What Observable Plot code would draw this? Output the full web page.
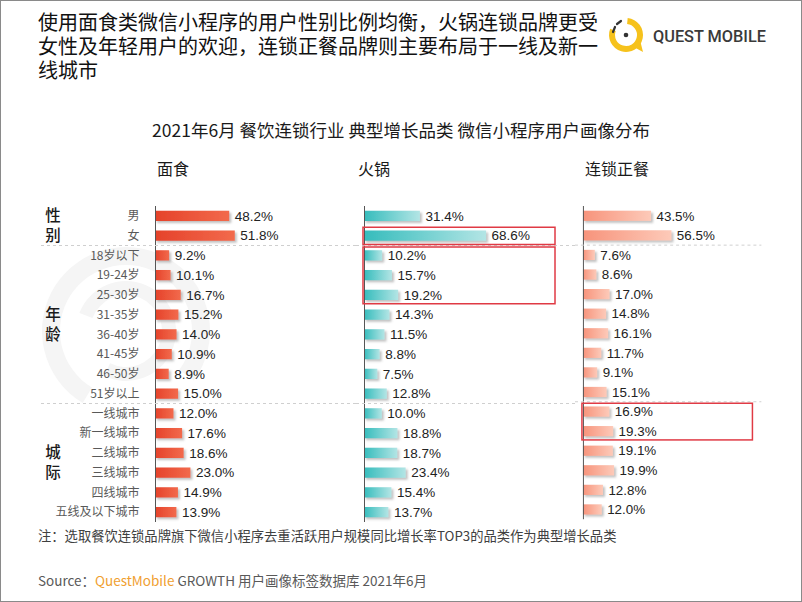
<!DOCTYPE html>
<html>
<head>
<meta charset="utf-8">
<script src="https://cdn.jsdelivr.net/npm/d3@7"></script>
<script src="https://cdn.jsdelivr.net/npm/@observablehq/plot@0.6"></script>
<style>
  body { margin: 0; background: #fff; }
  #chart { position: relative; width: 802px; height: 602px; box-sizing: border-box; border: 1px solid #8a8a8a; overflow: hidden; background: #fff; font-family: "Noto Sans CJK SC", "Noto Sans", sans-serif; }
  .abs { position: absolute; white-space: nowrap; }
  .title { left: 37px; top: 10px; font-size: 20px; line-height: 24px; color: #111; font-weight: 400; font-family: "Liberation Sans", "Noto Sans CJK SC", sans-serif; }
  .title div { height: 24px; }
  .subtitle { left: 0; width: 800px; top: 116px; text-align: center; font-size: 17.5px; color: #1a1a1a; }
  .head { top: 155px; font-size: 16px; color: #1a1a1a; }
  .note { left: 37px; top: 525px; font-size: 13.3px; color: #404040; }
  .source { left: 37px; top: 569px; font-size: 13.5px; color: #595959; }
  .panel { position: absolute; top: 205px; }
</style>
</head>
<body>
<div id="chart">
  <svg class="abs" id="wm" style="left:0;top:0" width="800" height="600"></svg>
  <div class="abs title"><div>使用面食类微信小程序的用户性别比例均衡，火锅连锁品牌更受</div><div>女性及年轻用户的欢迎，连锁正餐品牌则主要布局于一线及新一</div><div>线城市</div></div>
  <svg class="abs" id="logo" style="left:600px;top:8px" width="170" height="52"></svg>
  <div class="abs subtitle">2021年6月 餐饮连锁行业 典型增长品类 微信小程序用户画像分布</div>
  <div class="abs head" style="left:156px">面食</div>
  <div class="abs head" style="left:357px">火锅</div>
  <div class="abs head" style="left:584px">连锁正餐</div>
  <div class="panel" id="p1" style="left:0px"></div>
  <div class="panel" id="p2" style="left:355px"></div>
  <div class="panel" id="p3" style="left:574px"></div>
  <div class="abs note">注：选取餐饮连锁品牌旗下微信小程序去重活跃用户规模同比增长率TOP3的品类作为典型增长品类</div>
  <div class="abs source">Source：<span style="color:#f0a030">QuestMobile</span> GROWTH 用户画像标签数据库 2021年6月</div>
</div>
<script>
// ---- data ----
const rows = ["男","女","18岁以下","19-24岁","25-30岁","31-35岁","36-40岁","41-45岁","46-50岁","51岁以上","一线城市","新一线城市","二线城市","三线城市","四线城市","五线及以下城市"];
const groupNames = ["性别","年龄","城际"];
const groupFirst = ["男","18岁以下","一线城市"];
const groupLast = ["女","51岁以上","五线及以下城市"];
const panelNames = ["面食","火锅","连锁正餐"];
const noodles = [48.2,51.8,9.2,10.1,16.7,15.2,14.0,10.9,8.9,15.0,12.0,17.6,18.6,23.0,14.9,13.9];
const hotpot  = [31.4,68.6,10.2,15.7,19.2,14.3,11.5,8.8,7.5,12.8,10.0,18.8,18.7,23.4,15.4,13.7];
const dining  = [43.5,56.5,7.6,8.6,17.0,14.8,16.1,11.7,9.1,15.1,16.9,19.3,19.1,19.9,12.8,12.0];
// highlighted ranges: [panel index, first row, last row]
const highlights = [[1,"女","女"],[1,"18岁以下","25-30岁"],[2,"一线城市","新一线城市"]];

const panels = [
  {el:"#p1", values: noodles, width:355, axis:154, k:1.54, showY:true, c0:"#e5422a", c1:"#f26a4c", sepFrom:40, sepTo:355, boxW:0},
  {el:"#p2", values: hotpot, width:219, axis:8, k:1.78, showY:false, c0:"#35bcbc", c1:"#b3e5e5", sepFrom:0, sepTo:219, boxW:192},
  {el:"#p3", values: dining, width:228, axis:8, k:1.58, showY:false, c0:"#f7937b", c1:"#fdcab9", sepFrom:0, sepTo:188, boxW:172}
];

panels.forEach((p, pi) => {
  const data = rows.map((r, i) => ({row: r, value: p.values[i]}));
  const gid = "grad" + pi, fid = "shadow" + pi;
  const plot = Plot.plot({
    width: p.width, height: 316,
    marginTop: 0, marginBottom: 0, marginLeft: p.showY ? p.axis : 0, marginRight: 0,
    style: {background: "transparent", fontFamily: "'Noto Sans CJK SC', sans-serif", fontSize: "12px", color: "#595959", overflow: "visible"},
    x: {domain: [0, 100], range: [p.axis, p.axis + 100 * p.k], axis: null},
    y: {domain: rows, paddingInner: 0.48, paddingOuter: 0.24, round: false, axis: p.showY ? "left" : null, tickSize: 0, tickPadding: 16, label: null},
    marks: [
      Plot.barX(data, {x: "value", y: "row", fill: `url(#${gid})`}),
      Plot.text(data, {x: "value", y: "row", text: d => d.value.toFixed(1) + "%", textAnchor: "start", dx: 5, fill: "#222", fontSize: 13.5, fontFamily: "'Liberation Sans', Arial, sans-serif"}),
      Plot.ruleX([0], {stroke: "#555", strokeWidth: 1})
    ]
  });
  const svg = d3.select(plot);
  const defs = svg.insert("defs", ":first-child");
  const g = defs.append("linearGradient").attr("id", gid).attr("x1", 0).attr("x2", 1).attr("y1", 0).attr("y2", 0);
  g.append("stop").attr("offset", "0%").attr("stop-color", p.c0);
  g.append("stop").attr("offset", "100%").attr("stop-color", p.c1);
  defs.append("filter").attr("id", fid).attr("x", "-20%").attr("y", "-50%").attr("width", "140%").attr("height", "220%")
    .append("feDropShadow").attr("dx", 2).attr("dy", 2).attr("stdDeviation", 1.3).attr("flood-color", "#777").attr("flood-opacity", 0.45);
  svg.selectAll('g[aria-label="bar"]').attr("filter", `url(#${fid})`);

  const y = plot.scale("y");
  const center = r => y.apply(r) + y.bandwidth / 2;
  const over = svg.append("g");
  // dashed group separators
  for (let i = 0; i < groupLast.length - 1; i++) {
    const yy = (center(groupLast[i]) + center(groupFirst[i + 1])) / 2;
    over.append("line").attr("x1", p.sepFrom).attr("x2", p.sepTo).attr("y1", yy).attr("y2", yy)
      .attr("stroke", "#cfcfcf").attr("stroke-dasharray", "3,3");
  }
  // group labels
  if (p.showY) {
    groupNames.forEach((name, i) => {
      const mid = (center(groupFirst[i]) + center(groupLast[i])) / 2;
      const t = over.append("text").attr("text-anchor", "middle").attr("fill", "#1a1a1a")
        .attr("font-size", 15.5).attr("font-weight", 500).attr("font-family", "'Noto Sans CJK SC', sans-serif");
      t.append("tspan").attr("x", 52).attr("y", mid - 10).attr("dy", "0.35em").text(name[0]);
      t.append("tspan").attr("x", 52).attr("y", mid + 10).attr("dy", "0.35em").text(name[1]);
    });
  }
  // highlight boxes
  highlights.filter(h => h[0] === pi).forEach(h => {
    const top = y.apply(h[1]) - (y.step - y.bandwidth) / 2 + 1.5;
    const bot = y.apply(h[2]) + y.bandwidth + (y.step - y.bandwidth) / 2 - 1;
    over.append("rect").attr("x", p.axis - 1).attr("y", top).attr("width", p.boxW).attr("height", bot - top)
      .attr("fill", "none").attr("stroke", "#e03a44").attr("stroke-width", 1.5);
  });
  document.querySelector(p.el).appendChild(plot);
});

// ---- logo ----
const logo = d3.select("#logo");
const cx = 25, cy = 26, R = 14;
const arc = d3.arc().innerRadius(R - 3).outerRadius(R + 3);
logo.append("path").attr("transform", `translate(${cx},${cy})`)
  .attr("d", arc({startAngle: 0.1, endAngle: 2 * Math.PI - 1.2})).attr("fill", "#f6c21c");
logo.append("path").attr("d", `M${cx + 6},${cy + 11} L${cx + 17},${cy + 17} L${cx + 14},${cy + 5} Z`).attr("fill", "#f6c21c");
logo.append("line").attr("x1", cx - 13).attr("y1", cy - 3).attr("x2", cx - 11).attr("y2", cy - 8).attr("stroke", "#333").attr("stroke-width", 2.2).attr("stroke-linecap", "round");
logo.append("line").attr("x1", cx - 9).attr("y1", cy - 11).attr("x2", cx - 5).attr("y2", cy - 14).attr("stroke", "#333").attr("stroke-width", 2.2).attr("stroke-linecap", "round");
logo.append("circle").attr("cx", cx).attr("cy", cy).attr("r", 2.3).attr("fill", "#333");
logo.append("text").attr("x", 52).attr("y", 33).attr("font-family", "Roboto, sans-serif").attr("font-weight", 500)
  .attr("font-size", 17).attr("fill", "#3a3a3a").attr("textLength", 113).attr("lengthAdjust", "spacingAndGlyphs").text("QUEST MOBILE");

// ---- faint background ring (watermark logo shape) ----
const wm = d3.select("#wm");
wm.append("path").attr("transform", "translate(125,330)")
  .attr("d", d3.arc().innerRadius(66).outerRadius(84)({startAngle: -2.6, endAngle: 2.2})).attr("fill", "#f5f5f5");
wm.append("path").attr("transform", "translate(125,330)")
  .attr("d", d3.arc().innerRadius(36).outerRadius(50)({startAngle: -1.2, endAngle: 3.6})).attr("fill", "#f5f5f5");
</script>
</body>
</html>
